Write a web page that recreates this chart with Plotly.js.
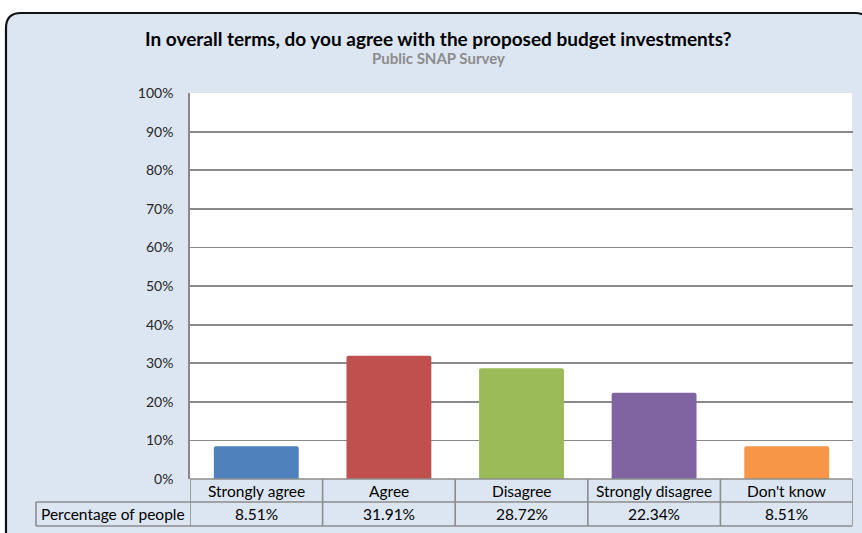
<!DOCTYPE html>
<html><head><meta charset="utf-8">
<script src="https://cdn.plot.ly/plotly-3.0.1.min.js"></script>
<style>html,body{margin:0;padding:0;background:#fff;}#chart{width:862px;height:533px;}</style>
</head><body><div id="chart"></div>
<script>
const categories = ["Strongly agree", "Agree", "Disagree", "Strongly disagree", "Don't know"];
const values = [0.0851, 0.3191, 0.2872, 0.2234, 0.0851];
const valueLabels = ["8.51%", "31.91%", "28.72%", "22.34%", "8.51%"];
const barColors = ["#4f81bd", "#c0504d", "#9bbb59", "#8064a2", "#f79646"];
const seriesName = "Percentage of people";
const titleText = "In overall terms, do you agree with the proposed budget investments?";
const subtitleText = "Public SNAP Survey";

const FW = 862, FH = 533;
const M = {l: 190, r: 9, t: 93, b: 54};
const PW = FW - M.l - M.r, PH = FH - M.t - M.b;
const px = x => (x - M.l) / PW;
const py = y => (FH - M.b - y) / PH;

const font = "Lato, 'Open Sans', sans-serif";
const gridCol = "#898989";
const tableCol = "#8c8c8c";
const bg = "#dce6f2";

// frame path (rounded rectangle) in paper coords
const fx0 = 6, fx1 = 870, fy0 = 13, fy1 = 545, r = 15;
function P(x, y) { return px(x) + "," + py(y); }
const framePath = "M" + P(fx0, fy0 + r) + " Q" + P(fx0, fy0) + " " + P(fx0 + r, fy0) +
  " L" + P(fx1 - r, fy0) + " Q" + P(fx1, fy0) + " " + P(fx1, fy0 + r) +
  " L" + P(fx1, fy1) + " L" + P(fx0, fy1) + " Z";

const rowTop = 479, rowMid = 502, rowBot = 526, tableLeft = 36, tableRight = 852;
const shapes = [
  {type: "path", xref: "paper", yref: "paper", path: framePath, fillcolor: bg,
   line: {color: "#111", width: 2.2}, layer: "below"},
  {type: "rect", xref: "paper", yref: "paper", x0: 0, x1: px(tableRight), y0: 0, y1: 1,
   fillcolor: "#ffffff", line: {width: 0}, layer: "below"},
  {type: "line", xref: "paper", yref: "paper", x0: px(M.l), x1: px(tableRight), y0: py(rowTop), y1: py(rowTop), line: {color: tableCol, width: 1.6}},
  {type: "line", xref: "paper", yref: "paper", x0: px(tableLeft), x1: px(tableRight), y0: py(rowMid), y1: py(rowMid), line: {color: tableCol, width: 1.6}},
  {type: "line", xref: "paper", yref: "paper", x0: px(tableLeft), x1: px(tableRight), y0: py(rowBot), y1: py(rowBot), line: {color: tableCol, width: 1.6}},
  {type: "line", xref: "paper", yref: "paper", x0: px(tableLeft), x1: px(tableLeft), y0: py(rowMid), y1: py(rowBot), line: {color: tableCol, width: 1.6}},
];
for (let i = 0; i <= categories.length; i++) {
  shapes.push({type: "line", xref: "x", yref: "paper", x0: i - 0.5, x1: i - 0.5,
    y0: py(rowTop), y1: py(rowBot), line: {color: tableCol, width: 1.6}});
}

const annotations = [
  {xref: "paper", yref: "paper", x: px(438), y: py(39), text: "<b>" + titleText + "</b>", showarrow: false,
   font: {family: font, size: 19, color: "#000"}, xanchor: "center", yanchor: "middle"},
  {xref: "paper", yref: "paper", x: px(438), y: py(58), text: "<b>" + subtitleText + "</b>", showarrow: false,
   font: {family: font, size: 15, color: "#8c8c8c"}, xanchor: "center", yanchor: "middle"},
  {xref: "paper", yref: "paper", x: px(113), y: py(514), text: seriesName, showarrow: false,
   font: {family: font, size: 15.5, color: "#000"}, xanchor: "center", yanchor: "middle"},
];
categories.forEach((c, i) => {
  annotations.push({xref: "x", yref: "paper", x: c, y: py(491), text: c, showarrow: false,
    font: {family: font, size: 15.5, color: "#000"}, xanchor: "center", yanchor: "middle"});
  annotations.push({xref: "x", yref: "paper", x: c, y: py(514), text: valueLabels[i], showarrow: false,
    font: {family: font, size: 15.5, color: "#000"}, xanchor: "center", yanchor: "middle"});
});

const data = [{
  type: "bar", x: categories, y: values, name: seriesName,
  marker: {color: barColors, line: {width: 0}, cornerradius: 2},
  width: 0.64, hoverinfo: "x+y"
}];

const layout = {
  width: FW, height: FH,
  margin: M,
  paper_bgcolor: "#ffffff", plot_bgcolor: "rgba(0,0,0,0)",
  showlegend: false,
  xaxis: {type: "category", range: [-0.5, categories.length - 0.5], showticklabels: false,
    showgrid: false, zeroline: false, showline: false, ticks: ""},
  yaxis: {range: [0, 1], dtick: 0.1, tickformat: ".0%", showgrid: true, gridcolor: gridCol, gridwidth: 1.8,
    zeroline: false, showline: true, linecolor: gridCol, linewidth: 1.8, ticks: "", ticklabelstandoff: 12,
    tickfont: {family: font, size: 14, color: "#262626"}},
  shapes: shapes, annotations: annotations
};
Plotly.newPlot("chart", data, layout, {displayModeBar: false, staticPlot: true});
</script></body></html>
